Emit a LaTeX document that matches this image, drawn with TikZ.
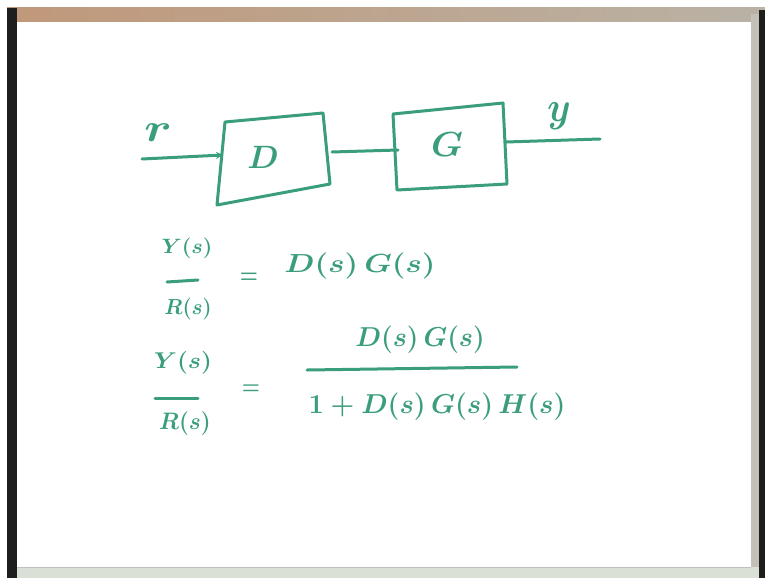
\documentclass[tikz,border=0pt]{standalone}
\usetikzlibrary{arrows.meta}
\definecolor{pen}{RGB}{58,158,124}
\definecolor{frameL}{RGB}{30,30,28}
\definecolor{frameT}{RGB}{192,152,122}
\definecolor{frameTR}{RGB}{185,178,165}
\definecolor{frameR}{RGB}{196,192,184}
\definecolor{frameB}{RGB}{218,224,214}
\tikzset{
  ink/.style={draw=pen, line width=3pt, line cap=round, line join=round},
  txt/.style={text=pen, inner sep=0pt, font=\Huge\boldmath},
  txtsm/.style={text=pen, inner sep=0pt, font=\huge\boldmath},
  blk/.style={ink}
}
\begin{document}
\begin{tikzpicture}[x=1pt,y=-1pt]
\useasboundingbox (0,0) rectangle (765,578);
\fill[white] (0,0) rectangle (765,578);
% board frame
\shade[left color=frameT, right color=frameTR] (7,8) rectangle (765,22);
\fill[frameL] (7,8) rectangle (17,578);
\fill[frameR] (751,14) rectangle (759,578);
\fill[frameL] (759,10) rectangle (765,578);
\fill[frameB] (17,567) rectangle (759,578);
\draw[gray!50, line width=0.8pt] (17,567) -- (751,567);
% blocks
\coordinate (Dtl) at (225,122); \coordinate (Dtr) at (323,113);
\coordinate (Dbr) at (330,184); \coordinate (Dbl) at (217,205);
\coordinate (Gtl) at (393,114); \coordinate (Gtr) at (503,103);
\coordinate (Gbr) at (507,184); \coordinate (Gbl) at (397,190);
\draw[blk] (Dtl) -- (Dtr) -- (Dbr) -- (Dbl) -- cycle;
\draw[blk] (Gtl) -- (Gtr) -- (Gbr) -- (Gbl) -- cycle;
\node[txt, xscale=1.3, yscale=1.3] (D) at (263,157) {$D$};
\node[txt, xscale=1.45, yscale=1.4] (G) at (447,145) {$G$};
% connectors
\coordinate (in) at (142,159);
\coordinate (Din) at (223,155);
\coordinate (Dout) at (332,152);
\coordinate (Gin) at (398,150);
\coordinate (Gout) at (506,142);
\coordinate (out) at (600,139);
\draw[ink, -{Stealth[length=7pt,width=7pt]}] (in) -- (Din);
\draw[ink] (Dout) -- (Gin);
\draw[ink] (Gout) -- (out);
\node[txt, xscale=2.0, yscale=1.6] (rl) at (158,133) {$r$};
\node[txt, xscale=1.5, yscale=1.7] (yl) at (559,116) {$y$};
% equation 1
\node[txtsm, xscale=1.05, yscale=1.0] (y1) at (187,248) {$Y(s)$};
\node[txtsm, xscale=1.0, yscale=1.05] (r1) at (188,309) {$R(s)$};
\draw[ink] (167,282) -- (198,280);
\node[txtsm, xscale=1.0, yscale=1.3] (eq1) at (249,278) {$=$};
\node[txt, xscale=1.25, yscale=1.05] (e1r) at (360,266) {$D(s)\,G(s)$};
% equation 2
\node[txtsm, xscale=1.2, yscale=1.1] (y2) at (183,363) {$Y(s)$};
\node[txtsm, xscale=1.09, yscale=1.15] (r2) at (185,424) {$R(s)$};
\draw[ink] (155,398) -- (198,398);
\node[txtsm, yscale=1.2] (eq2) at (251,390) {$=$};
\node[txt, xscale=1.07, yscale=1.1] (num) at (420,340) {$D(s)\,G(s)$};
\draw[ink] (307,370) -- (517,367);
\node[txt, xscale=1.09, yscale=1.1] (den) at (437,407) {$1+D(s)\,G(s)\,H(s)$};
\end{tikzpicture}
\end{document}
